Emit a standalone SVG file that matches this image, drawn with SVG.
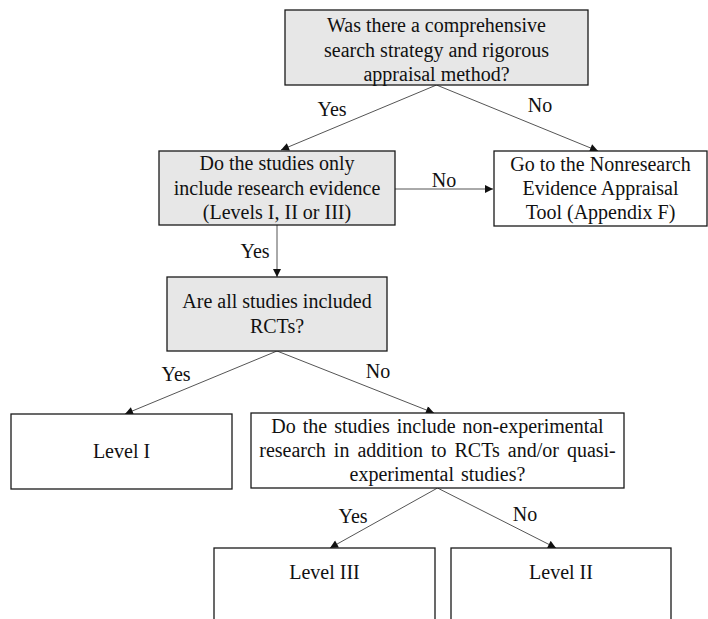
<svg xmlns="http://www.w3.org/2000/svg" width="708" height="619" viewBox="0 0 708 619">
  <style>
    .box { fill: #ffffff; stroke: #1a1a1a; stroke-width: 1.3; }
    .q { fill: #e7e7e7; }
    .t { font-family: "Liberation Serif", "Times New Roman", serif; font-size: 20px; fill: #111; text-anchor: middle; }
    .edge { stroke: #555; stroke-width: 1; fill: none; marker-end: url(#arrow); }
  </style>
  <defs>
    <marker id="arrow" viewBox="0 0 10 10" refX="10" refY="5" markerWidth="9" markerHeight="8" markerUnits="userSpaceOnUse" orient="auto">
      <path d="M0,0 L10,5 L0,10 z" fill="#111"/>
    </marker>
  </defs>
  <rect width="708" height="619" fill="#ffffff"/>

  <g id="connectors">
    <line class="edge" x1="436.5" y1="85" x2="281" y2="150"/>
    <line class="edge" x1="436.5" y1="85" x2="598" y2="151"/>
    <line class="edge" x1="395" y1="189" x2="493" y2="189"/>
    <line class="edge" x1="277" y1="225" x2="277" y2="277"/>
    <line class="edge" x1="277" y1="351" x2="125" y2="414"/>
    <line class="edge" x1="277" y1="351" x2="434" y2="413"/>
    <line class="edge" x1="437.5" y1="488" x2="330" y2="548"/>
    <line class="edge" x1="437.5" y1="488" x2="556" y2="548"/>
    <text class="t" x="332" y="116">Yes</text>
    <text class="t" x="540" y="112">No</text>
    <text class="t" x="444" y="187">No</text>
    <text class="t" x="255" y="258">Yes</text>
    <text class="t" x="176" y="381">Yes</text>
    <text class="t" x="378" y="378">No</text>
    <text class="t" x="353" y="523">Yes</text>
    <text class="t" x="525" y="521">No</text>
  </g>

  <g id="search-strategy">
    <rect class="box q" x="285" y="10" width="303" height="75"/>
    <text class="t" x="436.5" y="32">Was there a comprehensive</text>
    <text class="t" x="436.5" y="57">search strategy and rigorous</text>
    <text class="t" x="436.5" y="81">appraisal method?</text>
  </g>

  <g id="research-only">
    <rect class="box q" x="159" y="151" width="236" height="74"/>
    <text class="t" x="277" y="170">Do the studies only</text>
    <text class="t" x="277" y="195">include research evidence</text>
    <text class="t" x="277" y="219">(Levels I, II or III)</text>
  </g>

  <g id="nonresearch-tool">
    <rect class="box" x="494" y="151" width="213" height="75"/>
    <text class="t" x="600.5" y="171">Go to the Nonresearch</text>
    <text class="t" x="600.5" y="195">Evidence Appraisal</text>
    <text class="t" x="600.5" y="219">Tool (Appendix F)</text>
  </g>

  <g id="all-rcts">
    <rect class="box q" x="167" y="277" width="220" height="74"/>
    <text class="t" x="277" y="308">Are all studies included</text>
    <text class="t" x="277" y="333">RCTs?</text>
  </g>

  <g id="level-1">
    <rect class="box" x="11" y="414" width="221" height="75"/>
    <text class="t" x="121.5" y="458">Level I</text>
  </g>

  <g id="non-experimental">
    <rect class="box" x="251" y="413" width="373" height="75"/>
    <text class="t" x="437.5" y="433" word-spacing="2">Do the studies include non-experimental</text>
    <text class="t" x="437.5" y="457" word-spacing="3">research in addition to RCTs and/or quasi-</text>
    <text class="t" x="437.5" y="481" word-spacing="2">experimental studies?</text>
  </g>

  <g id="level-3">
    <rect class="box" x="214" y="548" width="221" height="80"/>
    <text class="t" x="324.5" y="579">Level III</text>
  </g>

  <g id="level-2">
    <rect class="box" x="451" y="548" width="220" height="80"/>
    <text class="t" x="561" y="579">Level II</text>
  </g>
</svg>
